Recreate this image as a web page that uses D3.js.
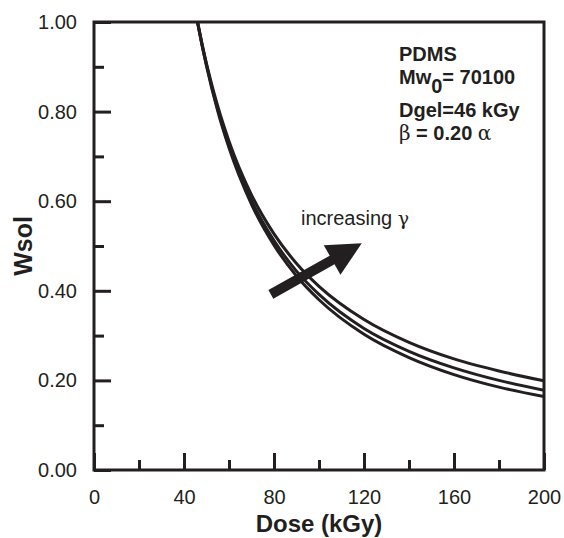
<!DOCTYPE html>
<html>
<head>
<meta charset="utf-8">
<script src="https://cdn.jsdelivr.net/npm/d3@7/dist/d3.min.js"></script>
<style>
  body { margin: 0; background: #fff; }
  text { font-family: 'Liberation Sans', Arial, sans-serif; fill: #231f20; }
</style>
</head>
<body>
<svg id="chart" width="564" height="538"></svg>
<script>
// values
const dose = [46, 48, 50, 55, 60, 70, 80, 90, 100, 120, 140, 160, 180, 200]
const wsolLow = [1.0, 0.949, 0.902, 0.801, 0.719, 0.593, 0.502, 0.433, 0.380, 0.303, 0.251, 0.213, 0.185, 0.164]
const wsolMid = [1.0, 0.949, 0.904, 0.805, 0.724, 0.601, 0.512, 0.444, 0.392, 0.316, 0.265, 0.228, 0.200, 0.178]
const wsolHigh = [1.0, 0.952, 0.907, 0.812, 0.734, 0.614, 0.527, 0.461, 0.410, 0.336, 0.285, 0.248, 0.221, 0.199]

const xMajor = [0, 40, 80, 120, 160, 200]
const xMinor = [20, 60, 100, 140, 180]
const yMajor = [0, 0.2, 0.4, 0.6, 0.8, 1.0]
const yMinor = [0.1, 0.3, 0.5, 0.7, 0.9]

// arrow annotation, in data units: [dose, wsol]
const arrowTail = [78.6, 0.392]
const arrowTip = [119.0, 0.506]

const INK = '#231f20'
const WIDTH = 564
const HEIGHT = 538
const MARGINS = { top: 22, right: 20, bottom: 68, left: 94 }

const vis = d3.select('#chart')

const xScale = d3.scaleLinear().domain([0, 200]).range([MARGINS.left, WIDTH - MARGINS.right])
const yScale = d3.scaleLinear().domain([0, 1]).range([HEIGHT - MARGINS.bottom, MARGINS.top])

vis.append('defs').append('clipPath')
  .attr('id', 'plot-clip')
  .append('rect')
  .attr('x', MARGINS.left)
  .attr('y', MARGINS.top)
  .attr('width', xScale(200) - xScale(0))
  .attr('height', yScale(0) - yScale(1))

// minor ticks first, then major ticks with labels
const styleAxis = g => {
  g.select('.domain').remove()
  g.selectAll('.tick line').attr('stroke', INK).attr('stroke-width', 3)
  g.selectAll('.tick text').attr('fill', INK).style('font-size', '20px')
}

vis.append('g')
  .attr('transform', `translate(${MARGINS.left}, 0)`)
  .call(d3.axisLeft(yScale).tickValues(yMinor).tickSize(-10).tickFormat(''))
  .call(styleAxis)

vis.append('g')
  .attr('transform', `translate(${MARGINS.left}, 0)`)
  .call(d3.axisLeft(yScale).tickValues(yMajor).tickSize(-17).tickPadding(17).tickFormat(d3.format('.2f')))
  .call(styleAxis)

vis.append('g')
  .attr('transform', `translate(0, ${yScale(0)})`)
  .call(d3.axisBottom(xScale).tickValues(xMinor).tickSize(-10).tickFormat(''))
  .call(styleAxis)

vis.append('g')
  .attr('transform', `translate(0, ${yScale(0)})`)
  .call(d3.axisBottom(xScale).tickValues(xMajor).tickSize(-17).tickPadding(20).tickFormat(d3.format('d')))
  .call(styleAxis)

// frame
vis.append('rect')
  .attr('x', xScale(0))
  .attr('y', yScale(1))
  .attr('width', xScale(200) - xScale(0))
  .attr('height', yScale(0) - yScale(1))
  .attr('fill', 'none')
  .attr('stroke', INK)
  .attr('stroke-width', 3)

const lineGen = d3.line()
  .x(d => xScale(d[0]))
  .y(d => yScale(d[1]))
  .curve(d3.curveMonotoneX)

const series = [wsolLow, wsolMid, wsolHigh]
vis.append('g')
  .attr('clip-path', 'url(#plot-clip)')
  .selectAll('path')
  .data(series)
  .join('path')
  .attr('d', values => lineGen(dose.map((d, i) => [d, values[i]])))
  .attr('fill', 'none')
  .attr('stroke', INK)
  .attr('stroke-width', 3)

// arrow
const x0 = xScale(arrowTail[0])
const y0 = yScale(arrowTail[1])
const x1 = xScale(arrowTip[0])
const y1 = yScale(arrowTip[1])
const len = Math.hypot(x1 - x0, y1 - y0)
const ux = (x1 - x0) / len
const uy = (y1 - y0) / len
const headLen = 34
const headHalf = 17
const bx = x1 - ux * headLen
const by = y1 - uy * headLen

vis.append('line')
  .attr('x1', x0).attr('y1', y0)
  .attr('x2', bx + ux * 2).attr('y2', by + uy * 2)
  .attr('stroke', INK)
  .attr('stroke-width', 10)

vis.append('path')
  .attr('d', `M${x1},${y1}L${bx - uy * headHalf},${by + ux * headHalf}L${bx + uy * headHalf},${by - ux * headHalf}Z`)
  .attr('fill', INK)

vis.append('text')
  .attr('x', 301)
  .attr('y', 225)
  .style('font-size', '20px')
  .text('increasing ')
  .append('tspan')
  .style('font-family', "'DejaVu Serif', serif")
  .style('font-size', '19px')
  .text('γ')

// parameter block
const info = vis.append('g').style('font-size', '20px').style('font-weight', 'bold')

info.append('text').attr('x', 399).attr('y', 61).text('PDMS')

const mw = info.append('text').attr('x', 399).attr('y', 84)
mw.append('tspan').text('Mw')
mw.append('tspan').attr('dy', 9).text('0')
mw.append('tspan').attr('dy', -9).text('= 70100')

info.append('text').attr('x', 399).attr('y', 117).text('Dgel=46 kGy')

const beta = info.append('text').attr('x', 399).attr('y', 140)
beta.append('tspan')
  .style('font-family', "'DejaVu Serif', serif")
  .style('font-weight', 'normal')
  .text('β')
beta.append('tspan').text(' = 0.20 ')
beta.append('tspan')
  .style('font-family', "'DejaVu Serif', serif")
  .style('font-weight', 'normal')
  .text('α')

// axis titles
vis.append('text')
  .attr('x', (xScale(0) + xScale(200)) / 2)
  .attr('y', 532)
  .attr('text-anchor', 'middle')
  .style('font-size', '24px')
  .style('font-weight', 'bold')
  .text('Dose (kGy)')

vis.append('text')
  .attr('transform', `translate(32, ${(yScale(0) + yScale(1)) / 2}) rotate(-90)`)
  .attr('text-anchor', 'middle')
  .style('font-size', '25px')
  .style('font-weight', 'bold')
  .text('Wsol')
</script>
</body>
</html>
